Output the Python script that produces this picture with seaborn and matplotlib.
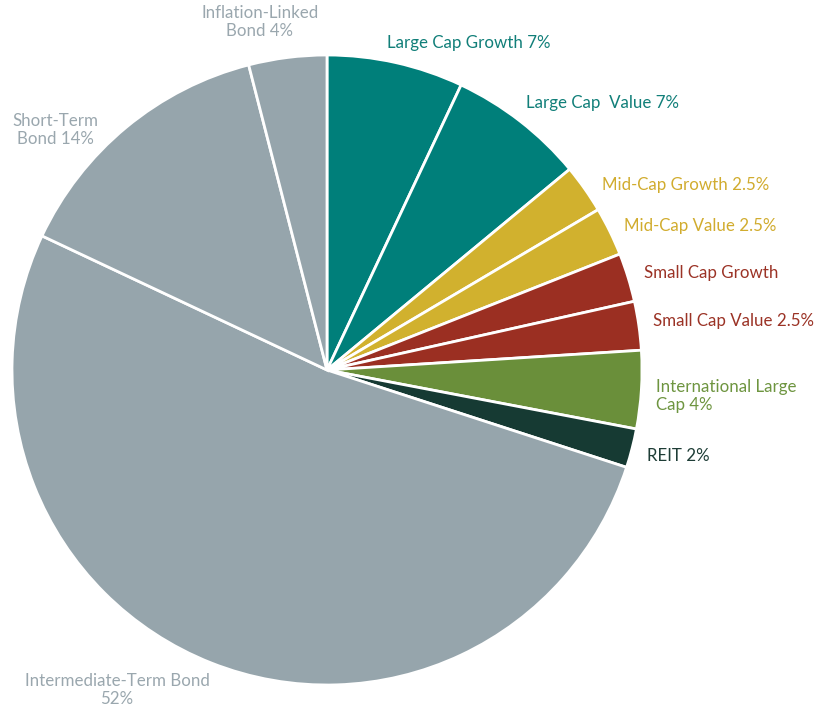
import matplotlib
matplotlib.use("Agg")
import matplotlib.pyplot as plt
import seaborn as sns

labels = ["Large Cap Growth 7%", "Large Cap  Value 7%", "Mid-Cap Growth 2.5%",
          "Mid-Cap Value 2.5%", "Small Cap Growth", "Small Cap Value 2.5%",
          "International Large\nCap 4%", "REIT 2%", "Intermediate-Term Bond\n52%",
          "Short-Term\nBond 14%", "Inflation-Linked\nBond 4%"]
values = [7, 7, 2.5, 2.5, 2.5, 2.5, 4, 2, 52, 14, 4]
colors = ["#007f7a", "#007f7a", "#d1b12e", "#d1b12e", "#9b2f22", "#9b2f22",
          "#6a8f3a", "#163a33", "#96a5ac", "#96a5ac", "#96a5ac"]
label_colors = ["#117f79", "#117f79", "#d1ac2e", "#d1ac2e", "#9b3326", "#9b3326",
                "#6e9540", "#1e3d36", "#9aa7ae", "#9aa7ae", "#9aa7ae"]

sns.set_theme(style="white")
plt.rcParams["font.family"] = ["Lato", "DejaVu Sans"]

W, H = 825, 708
fig = plt.figure(figsize=(W / 100, H / 100), dpi=100)
ax = fig.add_axes([0, 0, 1, 1])

cx, cy, r = 327, H - 370, 315
ax.pie(values, colors=sns.color_palette(colors), startangle=90, counterclock=False,
       center=(cx, cy), radius=r, frame=True,
       wedgeprops=dict(edgecolor="white", linewidth=2))
ax.set_xlim(0, W)
ax.set_ylim(0, H)
ax.set_aspect("equal")
ax.axis("off")

# label anchors in pixels (x, y from top, alignment)
pos = [(387, 43, "left"), (526, 103, "left"), (602, 185, "left"), (624, 226, "left"),
       (644, 273, "left"), (653, 321, "left"), (656, 396, "left"), (647, 456, "left"),
       (117, 690, "center"), (55, 130, "center"), (260, 22, "center")]
for lab, c, (x, y, ha) in zip(labels, label_colors, pos):
    ax.text(x, H - y, lab, color=c, fontsize=12.2, ha=ha, va="center",
            multialignment="center" if ha == "center" else "left", linespacing=1.1)

fig.savefig("out.png", dpi=100, facecolor="white")
